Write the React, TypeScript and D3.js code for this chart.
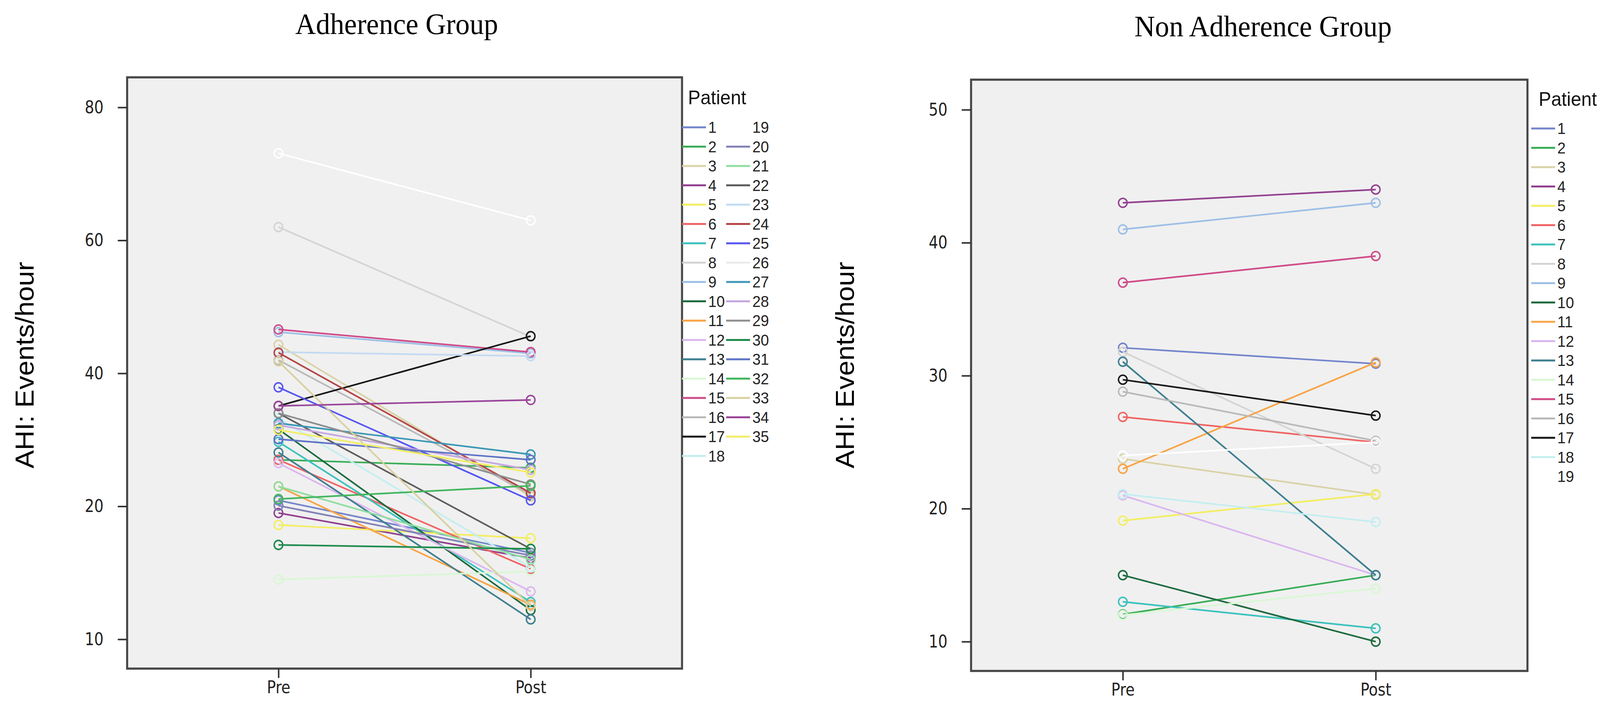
import React, { useEffect, useRef } from 'react';
import * as d3 from 'd3';

// phases on the x axis
const phases = ['Pre', 'Post'];

// Adherence group (patients 1..35)
const adherenceIds = [
  1, 2, 3, 4, 5, 6, 7, 8, 9, 10, 11, 12, 13, 14, 15, 16, 17, 18,
  19, 20, 21, 22, 23, 24, 25, 26, 27, 28, 29, 30, 31, 32, 33, 34, 35,
];
const adherencePre = [
  20.9, 27.0, 44.3, 19.5, 18.6, 27.0, 29.7, 62.0, 46.2, 31.6, 23.0, 26.5,
  28.1, 14.5, 46.6, 42.0, 35.1, 33.2, 73.1, 20.1, 23.0, 34.0, 43.2, 43.1,
  37.9, 17.0, 32.5, 32.2, 34.0, 17.1, 30.1, 21.1, 41.8, 35.1, 31.5,
];
const adherencePost = [
  16.5, 25.8, 21.5, 16.1, 17.6, 15.3, 12.8, 45.5, 43.0, 12.2, 12.6, 13.6,
  11.5, 15.1, 43.2, 21.8, 45.6, 15.4, 63.0, 16.3, 16.0, 16.8, 42.6, 22.0,
  20.9, 16.8, 27.8, 25.5, 23.3, 16.8, 27.0, 23.1, 12.5, 36.0, 25.1,
];
const adherenceTicks = [80, 60, 40, 20, 10];

// Non adherence group (patients 1..19)
const nonAdherenceIds = [
  1, 2, 3, 4, 5, 6, 7, 8, 9, 10, 11, 12, 13, 14, 15, 16, 17, 18, 19,
];
const nonAdherencePre = [
  32.1, 12.05, 23.75, 43.0, 19.1, 26.9, 13.0, 31.8, 41.0, 15.0, 23.0, 21.0,
  31.05, 12.0, 37.0, 28.8, 29.7, 21.1, 24.0,
];
const nonAdherencePost = [
  30.9, 15.0, 21.05, 44.0, 21.1, 25.0, 11.0, 23.0, 43.0, 10.0, 31.0, 15.0,
  15.0, 14.0, 39.0, 25.1, 27.0, 19.0, 25.0,
];
const nonAdherenceTicks = [50, 40, 30, 20, 10];

// patient colour cycle (index = patient - 1)
const patientColors = [
  '#7486cc', '#3aae58', '#d9d2a6', '#93428f', '#f3ee62', '#f06464',
  '#3cc2bc', '#d4d4d4', '#9dbfe6', '#1f6b40', '#f7a445', '#dbb6f0',
  '#3f7f90', '#d9f7d4', '#cf4c88', '#b9b9b9', '#1a1a1a', '#c4eef0',
  '#ffffff', '#8282b6', '#8ede9f', '#5e5e5e', '#c3daf2', '#b54646',
  '#5757f2', '#ebebeb', '#3b98b6', '#c6a6de', '#8f8f8f', '#1d8b4b',
  '#5f73c6', '#43b65e', '#d8d0a0', '#9b469b', '#f2ee66',
];

const W = 4279;
const H = 1818;

const SANS = 'Liberation Sans, Arial, Helvetica, sans-serif';
const NARROW = '"Liberation Sans Narrow", "Arial Narrow", "DejaVu Sans Condensed", sans-serif';
const SERIF = '"Liberation Serif", "Times New Roman", serif';

interface PanelProps {
  title: string;
  titleX: number;
  titleY: number;
  labelX: number;
  frameX: number;
  frameY: number;
  frameW: number;
  frameH: number;
  ids: number[];
  pre: number[];
  post: number[];
  ticks: number[];
  polylinear: boolean;
  legendX: number;
  legendY: number;
  legendTitleX: number;
  legendTitleY: number;
  legendRows: number;
}

const Panel = (props: PanelProps) => {
  const gRef = useRef<SVGGElement>(null);

  useEffect(() => {
    const g = d3.select(gRef.current);
    g.selectAll('*').remove();

    const { frameX, frameY, frameW, frameH, ids, pre, post, ticks } = props;

    // tick positions inside the frame are evenly spaced
    const tickTop = 77;
    const tickStep = 340.5;
    const tickPos = ticks.map((_, i) => tickTop + i * tickStep);

    const y = props.polylinear
      ? d3.scaleLinear().domain(ticks).range(tickPos)
      : d3
          .scaleLinear()
          .domain([ticks[0], ticks[ticks.length - 1]])
          .range([tickPos[0], tickPos[tickPos.length - 1]]);

    const x = d3.scalePoint<string>().domain(phases).range([0, frameW]).padding(0.6);

    const plot = g.append('g').attr('transform', `translate(${frameX},${frameY})`);

    plot
      .append('rect')
      .attr('width', frameW)
      .attr('height', frameH)
      .attr('fill', '#f0f0f0')
      .attr('stroke', '#474747')
      .attr('stroke-width', 5.5);

    // y axis
    const yAxis = d3
      .axisLeft(y)
      .tickValues(ticks)
      .tickFormat((d) => String(d))
      .tickSize(25)
      .tickSizeOuter(0)
      .tickPadding(38);
    const yg = plot.append('g').call(yAxis as any);
    yg.select('.domain').remove();
    yg.selectAll('.tick line').attr('stroke', '#333').attr('stroke-width', 4);
    yg.selectAll('.tick text')
      .attr('fill', '#222')
      .style('font-family', NARROW)
      .style('font-size', '44px');

    // x axis
    const xAxis = d3.axisBottom(x).tickSize(24).tickSizeOuter(0).tickPadding(8);
    const xg = plot.append('g').attr('transform', `translate(0,${frameH})`).call(xAxis as any);
    xg.select('.domain').remove();
    xg.selectAll('.tick line').attr('stroke', '#333').attr('stroke-width', 4);
    xg.selectAll('.tick text')
      .attr('fill', '#222')
      .style('font-family', NARROW)
      .style('font-size', '44px');

    // patient lines + markers
    const rows = ids.map((id, i) => ({
      id,
      color: patientColors[id - 1],
      values: [pre[i], post[i]],
    }));

    const lineGen = d3
      .line<number>()
      .x((_, i) => x(phases[i]) as number)
      .y((v) => y(v));

    const series = plot.append('g').selectAll('g').data(rows).join('g');
    series
      .append('path')
      .attr('d', (d) => lineGen(d.values))
      .attr('fill', 'none')
      .attr('stroke', (d) => d.color)
      .attr('stroke-width', 4.2);
    series
      .selectAll('circle')
      .data((d) => d.values.map((v, i) => ({ v, i, color: d.color })))
      .join('circle')
      .attr('cx', (d) => x(phases[d.i]) as number)
      .attr('cy', (d) => y(d.v))
      .attr('r', 11.5)
      .attr('fill', 'none')
      .attr('stroke', (d) => d.color)
      .attr('stroke-width', 3.8);

    // legend
    const legend = g.append('g');
    legend
      .append('text')
      .attr('x', props.legendTitleX)
      .attr('y', props.legendTitleY)
      .style('font-family', SANS)
      .style('font-size', '50px')
      .attr('fill', '#111')
      .text('Patient');

    const colStep = 118;
    const rowStep = 49.5;
    const items = legend
      .selectAll('g.item')
      .data(ids)
      .join('g')
      .attr('class', 'item')
      .attr('transform', (_, i) => {
        const col = Math.floor(i / props.legendRows);
        const row = i % props.legendRows;
        return `translate(${props.legendX + col * colStep},${props.legendY + row * rowStep})`;
      });
    items
      .append('line')
      .attr('x1', 0)
      .attr('x2', 64)
      .attr('stroke', (d) => patientColors[d - 1])
      .attr('stroke-width', 5);
    items
      .append('text')
      .attr('x', 70)
      .attr('dy', '0.36em')
      .style('font-family', SANS)
      .style('font-size', '40px')
      .attr('fill', '#222')
      .text((d) => String(d));
  }, [props]);

  return (
    <g>
      <text
        x={props.titleX}
        y={props.titleY}
        textAnchor="middle"
        fontFamily={SERIF}
        fontSize={76}
        fill="#000"
      >
        {props.title}
      </text>
      <text
        transform={`translate(${props.labelX},935) rotate(-90)`}
        textAnchor="middle"
        fontFamily={SANS}
        fontSize={70}
        fill="#000"
      >
        AHI: Events/hour
      </text>
      <g ref={gRef} />
    </g>
  );
};

export default function App() {
  useEffect(() => {
    document.body.style.margin = '0';
    document.body.style.overflow = 'hidden';
  }, []);

  return (
    <svg
      viewBox={`0 0 ${W} ${H}`}
      preserveAspectRatio="none"
      style={{
        position: 'fixed',
        left: 0,
        top: 0,
        width: '100vw',
        height: '100vh',
        display: 'block',
        background: '#fff',
      }}
    >
      <Panel
        title="Adherence Group"
        titleX={1061}
        titleY={87}
        labelX={90}
        frameX={340}
        frameY={198}
        frameW={1484}
        frameH={1514}
        ids={adherenceIds}
        pre={adherencePre}
        post={adherencePost}
        ticks={adherenceTicks}
        polylinear={true}
        legendX={1824}
        legendY={326}
        legendTitleX={1840}
        legendTitleY={267}
        legendRows={18}
      />
      <Panel
        title="Non Adherence Group"
        titleX={3378}
        titleY={93}
        labelX={2284}
        frameX={2597}
        frameY={204}
        frameW={1488}
        frameH={1514}
        ids={nonAdherenceIds}
        pre={nonAdherencePre}
        post={nonAdherencePost}
        ticks={nonAdherenceTicks}
        polylinear={false}
        legendX={4095}
        legendY={329}
        legendTitleX={4115}
        legendTitleY={271}
        legendRows={19}
      />
    </svg>
  );
}
